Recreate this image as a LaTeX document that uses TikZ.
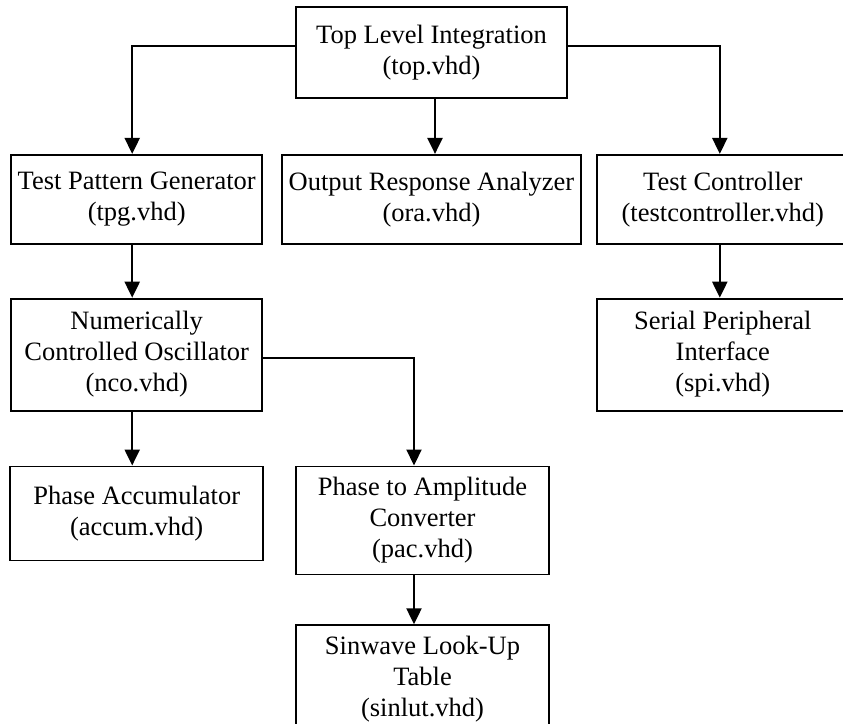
\documentclass[tikz,border=0pt]{standalone}
\usepackage{fontspec}
\setmainfont{Liberation Serif}
\usetikzlibrary{arrows.meta,positioning}

\tikzset{
  block/.style={draw, line width=1.8pt, align=center, inner sep=0pt,
    font=\fontsize{26.5}{31}\selectfont},
  link/.style={line width=2.2pt, -{Triangle[width=15pt,length=16pt]}}
}

\begin{document}
\begin{tikzpicture}[x=1pt,y=-1pt,node distance=55pt]
  \useasboundingbox (0,0) rectangle (843,723);
  \clip (0,0) rectangle (843,723);

  % top level and its three children
  \node[block, minimum width=271pt, minimum height=91pt] (top) at (431.5,52.5)
    {Top Level Integration\\(top.vhd)};
  \node[block, minimum width=299pt, minimum height=89pt] (ora) [below=55pt of top]
    {Output Response Analyzer\\(ora.vhd)};
  \node[block, minimum width=251pt, minimum height=89pt] (tpg) [left=18pt of ora]
    {Test Pattern Generator\\(tpg.vhd)};
  \node[block, minimum width=252pt, minimum height=89pt] (tc) [right=14pt of ora]
    {Test Controller\\(testcontroller.vhd)};

  % second level
  \node[block, minimum width=251pt, minimum height=112pt] (nco) [below=53pt of tpg]
    {Numerically\\Controlled Oscillator\\(nco.vhd)};
  \node[block, minimum width=252pt, minimum height=112pt] (spi) [below=53pt of tc]
    {Serial Peripheral\\Interface\\(spi.vhd)};

  % inside the nco
  \node[block, minimum width=253pt, minimum height=94pt] (acc) [below=54pt of nco]
    {Phase Accumulator\\(accum.vhd)};
  \node[block, minimum width=253pt, minimum height=108pt] (pac)
    [right=31pt of acc.north east, anchor=north west]
    {Phase to Amplitude\\Converter\\(pac.vhd)};
  \node[block, minimum width=253pt, minimum height=108pt] (slt) [below=49pt of pac]
    {Sinwave Look-Up\\Table\\(sinlut.vhd)};

  \draw[link] ([yshift=6.5pt]top.west) -| ([xshift=-4.5pt]tpg.north);
  \draw[link] ([xshift=3.5pt]top.south) -- ([xshift=3.5pt]ora.north);
  \draw[link] ([yshift=6.5pt]top.east) -| ([xshift=-3pt]tc.north);
  \draw[link] ([xshift=-4.5pt]tpg.south) -- ([xshift=-4.5pt]nco.north);
  \draw[link] ([xshift=-3pt]tc.south) -- ([xshift=-3pt]spi.north);
  \draw[link] ([xshift=-4.5pt]nco.south) -- ([xshift=-4.5pt]acc.north);
  \draw[link] ([yshift=-3pt]nco.east) -| ([xshift=-8.5pt]pac.north);
  \draw[link] ([xshift=-8.5pt]pac.south) -- ([xshift=-8.5pt]slt.north);
\end{tikzpicture}
\end{document}
